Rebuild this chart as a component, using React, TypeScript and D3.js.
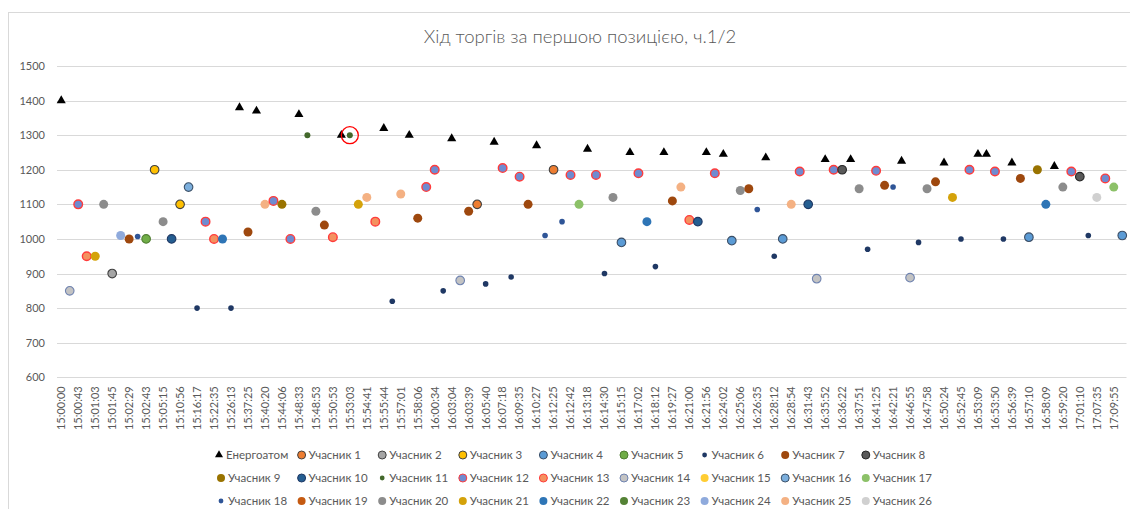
import React, { useEffect, useRef } from 'react';
import * as d3 from 'd3';

// visible time labels (Excel shows every second category)
const tickLabels = [
  '15:00:00', '15:00:43', '15:01:03', '15:01:45', '15:02:29', '15:02:43', '15:05:15', '15:10:56',
  '15:16:17', '15:22:35', '15:26:13', '15:37:25', '15:40:20', '15:44:06', '15:48:33', '15:48:53',
  '15:50:53', '15:53:03', '15:54:41', '15:55:44', '15:57:01', '15:58:06', '16:00:34', '16:03:04',
  '16:03:39', '16:05:40', '16:07:18', '16:09:35', '16:10:27', '16:12:25', '16:12:42', '16:13:18',
  '16:14:30', '16:15:15', '16:17:02', '16:18:12', '16:19:27', '16:21:00', '16:21:56', '16:24:02',
  '16:25:06', '16:26:35', '16:28:12', '16:28:54', '16:31:43', '16:35:52', '16:36:22', '16:37:51',
  '16:41:25', '16:42:21', '16:46:55', '16:47:58', '16:50:24', '16:52:45', '16:53:09', '16:53:50',
  '16:56:39', '16:57:10', '16:58:09', '16:59:20', '17:01:10', '17:07:35', '17:09:55',
];

const seriesNames = ['Енергоатом', ...d3.range(1, 27).map(i => `Учасник ${i}`)];

// one bid per time slot: price and who made it (0 = Енергоатом)
const bidValues = [
  1400, 850, 1100, 950, 950, 1100, 900, 1010, 1000, 1007,
  1000, 1200, 1050, 1000, 1100, 1150, 800, 1050, 1000, 1000,
  800, 1380, 1020, 1370, 1100, 1110, 1100, 1000, 1360, 1300,
  1080, 1040, 1005, 1300, 1300, 1100, 1120, 1050, 1320, 820,
  1130, 1300, 1060, 1150, 1200, 850, 1290, 880, 1080, 1100,
  870, 1280, 1205, 890, 1180, 1100, 1270, 1010, 1200, 1050,
  1185, 1100, 1260, 1185, 900, 1120, 990, 1250, 1190, 1050,
  920, 1250, 1110, 1150, 1055, 1050, 1250, 1190, 1245, 995,
  1140, 1145, 1085, 1235, 950, 1000, 1100, 1195, 1100, 885,
  1230, 1200, 1200, 1230, 1145, 970, 1197, 1155, 1150, 1225,
  888, 990, 1145, 1165, 1220, 1120, 1000, 1200, 1245, 1245,
  1195, 1000, 1220, 1175, 1005, 1200, 1100, 1210, 1150, 1195,
  1180, 1010, 1120, 1175, 1150, 1010,
];
const bidders = [
  0, 14, 12, 13, 21, 20, 2, 24, 7, 18,
  5, 3, 20, 10, 3, 16, 6, 12, 13, 22,
  6, 0, 7, 0, 25, 12, 9, 12, 0, 11,
  20, 7, 13, 0, 11, 21, 25, 13, 0, 6,
  25, 0, 7, 12, 12, 6, 0, 14, 7, 1,
  6, 0, 12, 6, 12, 7, 0, 18, 1, 18,
  12, 17, 0, 12, 6, 20, 4, 0, 12, 22,
  6, 0, 7, 25, 13, 10, 0, 12, 0, 4,
  20, 7, 18, 0, 6, 4, 25, 12, 10, 14,
  0, 12, 8, 0, 20, 6, 12, 7, 18, 0,
  14, 6, 20, 7, 0, 21, 6, 12, 0, 0,
  12, 6, 0, 7, 4, 9, 22, 0, 20, 12,
  8, 6, 26, 12, 17, 4,
];
const highlightSlots = [34];

const yTicks = d3.range(600, 1501, 100);

// marker styles per series
const fills = ['#000000', '#ED7D31', '#A5A5A5', '#FFC000', '#5B9BD5', '#70AD47', '#1F3864', '#9E480E', '#595959',
  '#997300', '#255E91', '#43682B', '#6F8BD0', '#F4915F', '#C3C3C3', '#FFCD33', '#7CAFDD', '#8CC168', '#2F5597',
  '#C55A11', '#8C8C8C', '#D4A20A', '#2E75B6', '#548235', '#8FAADC', '#F4B183', '#D0D0D0'];
const strokes = ['none', '#404040', '#404040', '#404040', '#3B4E66', '#507E32', 'none', 'none', '#262626',
  'none', '#1F3864', 'none', '#FF3B3B', '#FF3B3B', '#6F83B0', 'none', '#3A5068', 'none', 'none',
  'none', 'none', 'none', 'none', 'none', 'none', 'none', 'none'];
const radii = [4.3, 4.3, 4.3, 4.3, 4.3, 4.3, 2.8, 4.5, 4.3, 4.5, 4.3, 3, 4.3, 4.3, 4.3, 4.5, 4.3, 4.5, 2.8,
  4.5, 4.5, 4.5, 4.5, 4.5, 4.5, 4.5, 4.5];

const App: React.FC = () => {
  const ref = useRef<SVGSVGElement | null>(null);

  useEffect(() => {
    const width = 1130;
    const height = 509;
    const font = "Lato, 'Open Sans', sans-serif";
    const grey = '#595959';

    const svg = d3.select(ref.current);
    svg.selectAll('*').remove();
    svg.attr('width', width).attr('height', height).style('font-family', font);

    svg.append('rect')
      .attr('x', 8.5).attr('y', 12.5)
      .attr('width', width).attr('height', height)
      .attr('fill', '#ffffff').attr('stroke', '#d9d9d9');

    svg.append('text')
      .attr('x', 580).attr('y', 43)
      .attr('text-anchor', 'middle')
      .attr('fill', grey)
      .style('font-size', '18.5px')
      .style('font-weight', 300)
      .text('Хід торгів за першою позицією, ч.1/2');

    const x = d3.scaleBand<number>()
      .domain(d3.range(bidValues.length))
      .range([57, 1126.5]);
    const cx = (i: number) => x(i)! + x.bandwidth() / 2;

    const y = d3.scaleLinear().domain([600, 1500]).range([377.3, 66]);

    // gridlines
    svg.append('g')
      .selectAll('line')
      .data(yTicks)
      .join('line')
        .attr('x1', 57).attr('x2', 1126.5)
        .attr('y1', d => Math.round(y(d)) + 0.5)
        .attr('y2', d => Math.round(y(d)) + 0.5)
        .attr('stroke', '#d9d9d9')
        .attr('stroke-width', 1);

    const yAxis = svg.append('g')
      .attr('transform', 'translate(57,0)')
      .call(d3.axisLeft(y).tickValues(yTicks).tickFormat(d3.format('d')).tickSize(0).tickPadding(12));
    yAxis.select('.domain').remove();
    yAxis.selectAll('text')
      .attr('fill', grey)
      .style('font-size', '11px')
      .style('font-family', font);

    const labelSlots = tickLabels.map((_, i) => i * 2);
    const xAxis = svg.append('g')
      .attr('transform', `translate(0,${y(600)})`)
      .call(d3.axisBottom(x)
        .tickValues(labelSlots)
        .tickSize(0)
        .tickFormat(d => tickLabels[(d as number) / 2]));
    xAxis.select('.domain').remove();
    xAxis.selectAll('text')
      .attr('transform', 'rotate(-90)')
      .attr('text-anchor', 'end')
      .attr('x', -9)
      .attr('y', 0)
      .attr('dy', '0.35em')
      .attr('fill', grey)
      .style('font-size', '11px')
      .style('font-family', font);

    const triangle = d3.symbol().type(d3.symbolTriangle).size(36);

    const points = svg.append('g')
      .selectAll('g')
      .data(bidValues.map((v, i) => ({ slot: i, value: v, who: bidders[i] })))
      .join('g')
        .attr('transform', d => `translate(${cx(d.slot)},${y(d.value)})`);

    points.filter(d => d.who === 0).append('path')
      .attr('d', triangle)
      .attr('fill', '#000000');

    points.filter(d => d.who !== 0).append('circle')
      .attr('r', d => radii[d.who])
      .attr('fill', d => fills[d.who])
      .attr('stroke', d => strokes[d.who])
      .attr('stroke-width', d => (d.who === 12 || d.who === 13 ? 1.4 : 1.1));

    svg.append('g')
      .selectAll('circle')
      .data(highlightSlots)
      .join('circle')
        .attr('cx', d => cx(d))
        .attr('cy', d => y(bidValues[d]))
        .attr('r', 8.5)
        .attr('fill', 'none')
        .attr('stroke', '#FF0000')
        .attr('stroke-width', 1.3);

    // legend: 9 columns, 3 rows
    const legend = svg.append('g')
      .selectAll('g')
      .data(seriesNames.map((name, i) => ({ name, i })))
      .join('g')
        .attr('transform', d => `translate(${221 + (d.i % 9) * 80.6},${455 + Math.floor(d.i / 9) * 23})`);

    legend.filter(d => d.i === 0).append('path')
      .attr('d', d3.symbol().type(d3.symbolTriangle).size(28))
      .attr('transform', 'translate(-2,0)')
      .attr('fill', '#000000');

    legend.filter(d => d.i !== 0).append('circle')
      .attr('r', d => (radii[d.i] < 4 ? 2.4 : 4))
      .attr('fill', d => fills[d.i])
      .attr('stroke', d => strokes[d.i])
      .attr('stroke-width', 1);

    legend.append('text')
      .attr('x', d => (d.i === 0 ? 5 : 7))
      .attr('dy', '0.35em')
      .attr('fill', grey)
      .style('font-size', '11.5px')
      .text(d => d.name);
  }, []);

  return (
    <svg ref={ref} style={{ position: 'absolute', left: 0, top: 0, background: '#ffffff' }}></svg>
  );
};

export default App;
